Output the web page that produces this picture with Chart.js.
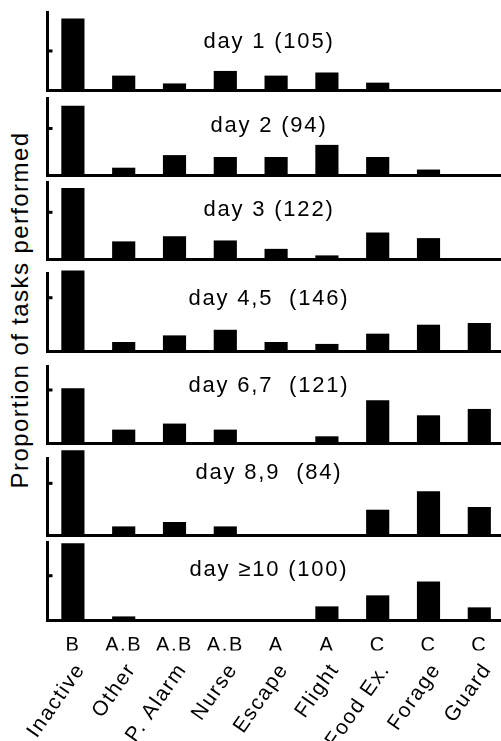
<!DOCTYPE html>
<html>
<head>
<meta charset="utf-8">
<script src="https://cdn.jsdelivr.net/npm/chart.js@4.4.1/dist/chart.umd.min.js"></script>
<style>
  html, body { margin: 0; padding: 0; background: #fff; width: 501px; height: 741px; overflow: hidden; }
  #wrap { position: relative; width: 501px; height: 741px; overflow: hidden; }
  .panel { position: absolute; left: 0; width: 520px; }
  #ytitle {
    position: absolute; left: 20px; top: 310px;
    transform: translate(-50%, -50%) rotate(-90deg);
    white-space: nowrap;
    font: 24px "Liberation Sans", Arial, sans-serif;
    letter-spacing: 1.4px;
    color: #000;
  }
</style>
</head>
<body>
<div id="wrap">
  <div id="ytitle">Proportion of tasks performed</div>
</div>
<script>
// categories and the letter groups printed above them
const tasks = ['Inactive', 'Other', 'P. Alarm', 'Nurse', 'Escape', 'Flight', 'Food Ex.', 'Forage', 'Guard'];
const groups = ['B', 'A,B', 'A,B', 'A,B', 'A', 'A', 'C', 'C', 'C'];

// panel titles: age class and number of observations
const days = ['day 1', 'day 2', 'day 3', 'day 4,5 ', 'day 6,7 ', 'day 8,9 ', 'day \u226510'];
const nObs = [105, 94, 122, 146, 121, 84, 100];

// proportion of tasks performed, one array per age class
const day1  = [0.91, 0.18, 0.08, 0.24, 0.18, 0.22, 0.09, 0, 0];
const day2  = [0.74, 0.075, 0.21, 0.19, 0.19, 0.32, 0.19, 0.055, 0];
const day3  = [0.755, 0.185, 0.24, 0.195, 0.105, 0.035, 0.28, 0.22, 0];
const day45 = [0.75, 0.087, 0.148, 0.20, 0.087, 0.069, 0.164, 0.247, 0.263];
const day67 = [0.514, 0.123, 0.18, 0.123, 0, 0.06, 0.40, 0.258, 0.318];
const day89 = [0.814, 0.084, 0.126, 0.084, 0, 0, 0.244, 0.42, 0.27];
const day10 = [0.86, 0.042, 0, 0, 0, 0.154, 0.277, 0.433, 0.143];
const panels = [day1, day2, day3, day45, day67, day89, day10];

// y axis range of each panel and the single tick mark
const yMax = [0.99, 0.824, 0.824, 0.726, 0.726, 0.74, 0.873];
const yTick = 0.5;

// page layout (pixels)
const axisTop  = [12.7, 98.3, 182, 273.3, 366, 458.3, 542.3];
const baseline = [90, 175, 259, 351.7, 443, 535.5, 620.5];
const titleDy  = [35.3, 33.7, 34.3, 31.7, 26, 20.7, 33.7];
const W = 520, LEFT = 47.5, PLOT_W = 457.2, PAGE_H = 741;

Chart.defaults.font.family = '"Liberation Sans", Arial, sans-serif';
Chart.defaults.color = '#000';

const spacing = {
  id: 'spacing',
  beforeDraw(chart) { chart.ctx.letterSpacing = '1.6px'; }
};

const tickStub = {
  id: 'tickStub',
  afterDraw(chart) {
    const ctx = chart.ctx, a = chart.chartArea;
    const y = chart.scales.y.getPixelForValue(yTick);
    ctx.save();
    ctx.fillStyle = '#000';
    ctx.fillRect(a.left, y - 1.5, 5, 3);
    ctx.restore();
  }
};

const panelTitle = {
  id: 'panelTitle',
  afterDatasetsDraw(chart, args, opts) {
    const ctx = chart.ctx;
    ctx.save();
    ctx.font = '22px "Liberation Sans", Arial, sans-serif';
    ctx.fillStyle = '#000';
    ctx.textAlign = 'center';
    ctx.textBaseline = 'alphabetic';
    ctx.letterSpacing = '1.8px';
    ctx.fillText(opts.text, 269, chart.chartArea.top + opts.dy);
    ctx.restore();
  }
};

const wrap = document.getElementById('wrap');

panels.forEach((vals, i) => {
  const last = i === panels.length - 1;
  const top = Math.round(axisTop[i] - 12);
  const h = last ? PAGE_H - top : Math.ceil(baseline[i] + 3 - top);
  const lettersH = 30;

  const box = document.createElement('div');
  box.className = 'panel';
  box.style.top = top + 'px';
  box.style.height = h + 'px';
  const cv = document.createElement('canvas');
  box.appendChild(cv);
  wrap.appendChild(box);

  const scales = {
    x: {
      offset: true,
      grid: { display: true, drawOnChartArea: false, drawTicks: false },
      border: { color: '#000', width: 3 },
      ticks: {
        display: last,
        callback: (v, k) => groups[k],
        maxRotation: 0, minRotation: 0, autoSkip: false,
        padding: 13, font: { size: 20 }
      },
      afterFit: s => { if (last) s.height = lettersH; s.paddingLeft = 0; s.paddingRight = 0; }
    },
    y: {
      min: 0, max: yMax[i],
      grid: { display: true, drawOnChartArea: false, drawTicks: false },
      border: { color: '#000', width: 3 },
      ticks: { display: false }
    }
  };
  if (last) {
    scales.x2 = {
      type: 'category', labels: tasks, offset: true, position: 'bottom',
      grid: { display: false, drawTicks: false },
      border: { display: false },
      ticks: {
        minRotation: 55, maxRotation: 55, autoSkip: false,
        padding: 8, labelOffset: 8, font: { size: 21 }
      },
      afterFit: s => {
        s.height = PAGE_H - baseline[i] - lettersH;
        s.paddingLeft = 0; s.paddingRight = 0;
      }
    };
  }

  new Chart(cv, {
    type: 'bar',
    data: {
      labels: tasks,
      datasets: [{ data: vals, backgroundColor: '#000', barThickness: 22.5, clip: false }]
    },
    options: {
      responsive: true,
      maintainAspectRatio: false,
      animation: false,
      layout: {
        padding: {
          left: LEFT, right: W - LEFT - PLOT_W,
          top: axisTop[i] - top,
          bottom: last ? 0 : h - (baseline[i] - top)
        }
      },
      plugins: {
        legend: { display: false },
        tooltip: { enabled: false },
        panelTitle: { text: days[i] + ' (' + nObs[i] + ')', dy: titleDy[i] }
      },
      scales
    },
    plugins: [spacing, tickStub, panelTitle]
  });
});
</script>
</body>
</html>
